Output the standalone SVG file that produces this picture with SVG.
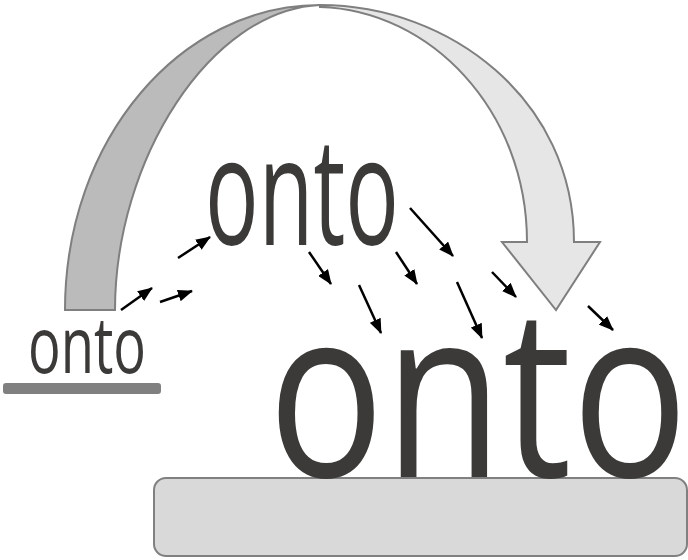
<svg xmlns="http://www.w3.org/2000/svg" width="688" height="560" viewBox="0 0 688 560">
<style>
.band{stroke:#7f7f7f;stroke-width:2;stroke-linejoin:miter}
.word{font-family:"Open Sans","Noto Sans","Liberation Sans",sans-serif;fill:#3b3a38}
.conn{stroke:#000;stroke-width:2.5;fill:none}
</style>
<defs>
<marker id="ah" viewBox="0 0 15 12" refX="14" refY="6" markerWidth="15" markerHeight="12" markerUnits="userSpaceOnUse" orient="auto">
<path d="M0,0 L15,6 L0,12 Z" fill="#000"/>
</marker>
</defs>
<rect width="688" height="560" fill="#fff"/>
<g id="arc-left">
<path class="band" fill="#bbbbbb" d="M65,310 C65,140 180,5 320,5 C210,10 115,160 115,310 Z"/>
</g>
<g id="arc-right">
<path class="band" fill="#e6e6e6" d="M320,5 C450,5 574,100 574,242 L600,242 L556,310 L502,242 L527,242 C527,110 430,10 320,7 Z"/>
</g>
<g id="ground-small">
<rect x="3" y="383" width="158" height="11" rx="3" fill="#808080"/>
</g>
<g id="ground-large">
<rect x="154" y="478" width="533" height="78" rx="12" fill="#d9d9d9" stroke="#808080" stroke-width="2"/>
</g>
<g id="word-small">
<text class="word" x="28" y="373" font-size="78" textLength="118" lengthAdjust="spacingAndGlyphs">onto</text>
</g>
<g id="word-middle">
<text class="word" x="205" y="245" font-size="150" textLength="194" lengthAdjust="spacingAndGlyphs">onto</text>
</g>
<g id="word-large">
<text class="word" x="268" y="477" font-size="236" textLength="420" lengthAdjust="spacingAndGlyphs">onto</text>
</g>
<g id="connectors">
<line class="conn" marker-end="url(#ah)" x1="121" y1="310" x2="152" y2="288"/>
<line class="conn" marker-end="url(#ah)" x1="160" y1="302" x2="192" y2="291"/>
<line class="conn" marker-end="url(#ah)" x1="178" y1="258" x2="210" y2="237"/>
<line class="conn" marker-end="url(#ah)" x1="309" y1="252" x2="331" y2="284"/>
<line class="conn" marker-end="url(#ah)" x1="359" y1="285" x2="381" y2="333"/>
<line class="conn" marker-end="url(#ah)" x1="396" y1="252" x2="417" y2="284"/>
<line class="conn" marker-end="url(#ah)" x1="410" y1="208" x2="453" y2="256"/>
<line class="conn" marker-end="url(#ah)" x1="492" y1="272" x2="516" y2="297"/>
<line class="conn" marker-end="url(#ah)" x1="457" y1="282" x2="482" y2="338"/>
<line class="conn" marker-end="url(#ah)" x1="588" y1="306" x2="613" y2="330"/>
</g>
</svg>
